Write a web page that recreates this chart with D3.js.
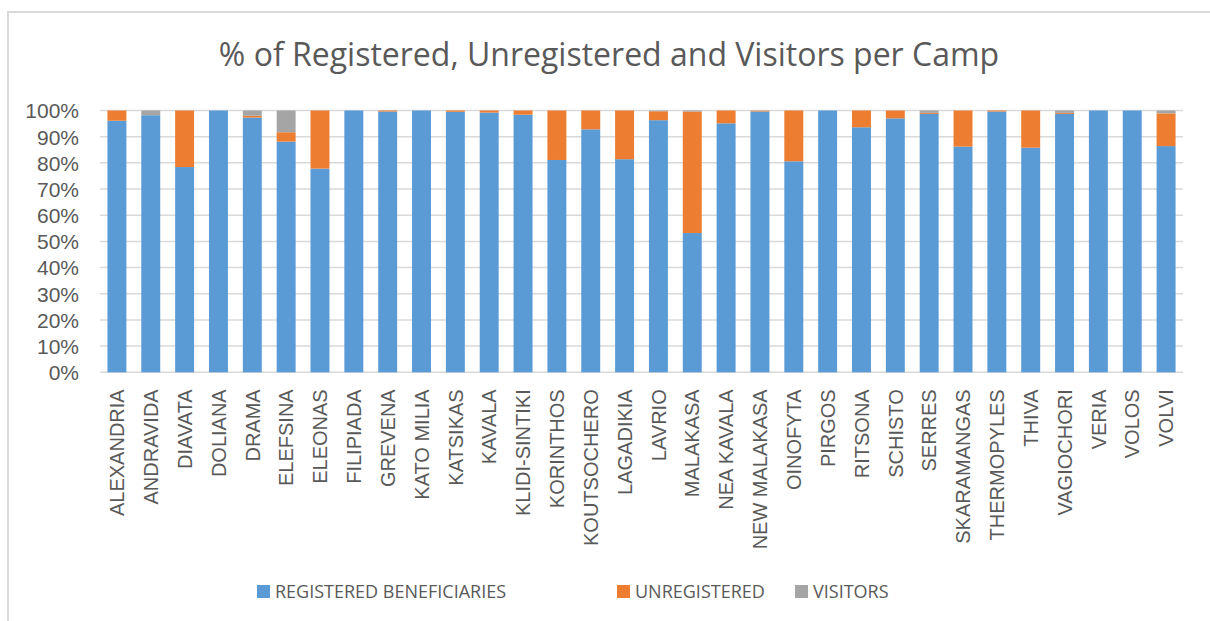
<!DOCTYPE html>
<html>
<head>
<meta charset="utf-8">
<script src="https://cdn.jsdelivr.net/npm/d3@7"></script>
<style>
  html, body { margin: 0; padding: 0; background: #fff; }
  svg { display: block; font-family: "Open Sans", "Noto Sans", sans-serif; }
</style>
</head>
<body>
<svg id="chart" width="1210" height="621"></svg>
<script>
const categories = ["ALEXANDRIA","ANDRAVIDA","DIAVATA","DOLIANA","DRAMA","ELEFSINA","ELEONAS","FILIPIADA","GREVENA","KATO MILIA","KATSIKAS","KAVALA","KLIDI-SINTIKI","KORINTHOS","KOUTSOCHERO","LAGADIKIA","LAVRIO","MALAKASA","NEA KAVALA","NEW MALAKASA","OINOFYTA","PIRGOS","RITSONA","SCHISTO","SERRES","SKARAMANGAS","THERMOPYLES","THIVA","VAGIOCHORI","VERIA","VOLOS","VOLVI"];
const registered = [96.1,98.2,78.4,100,97.3,88.1,77.8,100,99.6,100,99.5,99.2,98.4,81.1,92.8,81.4,96.3,53.2,95.1,99.6,80.6,100,93.6,97.0,98.7,86.2,99.6,85.8,98.7,100,100,86.4];
const unregistered = [3.9,0,21.6,0,0.7,3.6,22.2,0,0.4,0,0.5,0.8,1.6,18.9,7.2,18.6,3.4,46.4,4.9,0.3,19.4,0,6.4,3.0,0.4,13.8,0.4,14.2,0.4,0,0,12.5];
const visitors = [0,1.8,0,0,2.0,8.3,0,0,0,0,0,0,0,0,0,0,0.3,0.4,0,0.1,0,0,0,0,0.9,0,0,0,0.9,0,0,1.1];
const seriesNames = ["REGISTERED BENEFICIARIES","UNREGISTERED","VISITORS"];
const seriesColors = ["#5B9BD5","#ED7D31","#A5A5A5"];
const yTicks = [0,10,20,30,40,50,60,70,80,90,100];
const title = "% of Registered, Unregistered and Visitors per Camp";

const svg = d3.select("#chart");
const textColor = "#595959";
const gridColor = "#d9d9d9";

// outer chart border
svg.append("path")
  .attr("d", "M8,621 L8,12 L1212,12")
  .attr("fill", "none").attr("stroke", gridColor).attr("stroke-width", 2);

const margin = {left: 100, right: 1183, top: 110.5, bottom: 372.3};

const x = d3.scaleBand().domain(categories).range([margin.left, margin.right]).paddingInner(0.44).paddingOuter(0.22);
const y = d3.scaleLinear().domain([0, 100]).range([margin.bottom, margin.top]);

// gridlines
svg.append("g").selectAll("line").data(yTicks).join("line")
  .attr("x1", margin.left).attr("x2", margin.right)
  .attr("y1", d => y(d)).attr("y2", d => y(d))
  .attr("stroke", gridColor).attr("stroke-width", 1.5);

// stacked data
const rows = categories.map((c, i) => ({cat: c, s0: registered[i], s1: unregistered[i], s2: visitors[i]}));
const stack = d3.stack().keys(["s0","s1","s2"]);
const stacked = stack(rows);

svg.append("g").selectAll("g").data(stacked).join("g")
  .attr("fill", (d, i) => seriesColors[i])
  .selectAll("rect").data(d => d).join("rect")
  .attr("x", d => x(d.data.cat))
  .attr("width", x.bandwidth())
  .attr("y", d => y(d[1]))
  .attr("height", d => Math.max(0, y(d[0]) - y(d[1])));

// y axis labels
const yAxis = d3.axisLeft(y).tickValues(yTicks).tickFormat(d => d + "%").tickSize(0).tickPadding(0);
const yg = svg.append("g").attr("transform", "translate(79,0)").call(yAxis);
yg.select(".domain").remove();
yg.selectAll("text").attr("fill", textColor).style("font-size", "21px").attr("dy", "0.35em");

// x axis labels
const xAxis = d3.axisBottom(x).tickSize(0).tickPadding(0);
const xg = svg.append("g").attr("transform", `translate(0,${margin.bottom})`).call(xAxis);
xg.select(".domain").remove();
xg.selectAll("text")
  .attr("fill", textColor)
  .style("font-size", "20px")
  .attr("text-anchor", "end")
  .attr("transform", "rotate(-90)")
  .attr("x", -17)
  .attr("y", 0)
  .attr("dy", "0.36em");

// title
svg.append("text")
  .attr("x", 609).attr("y", 66)
  .attr("text-anchor", "middle")
  .attr("fill", textColor)
  .style("font-size", "32px")
  .text(title);

// legend
const legendX = [257, 617, 795];
const lg = svg.append("g").selectAll("g").data(seriesNames).join("g")
  .attr("transform", (d, i) => `translate(${legendX[i]},585)`);
lg.append("rect").attr("width", 13).attr("height", 13).attr("fill", (d, i) => seriesColors[i]);
lg.append("text").attr("x", 18).attr("y", 6.5).attr("dy", "0.36em")
  .attr("fill", textColor).style("font-size", "18px").text(d => d);
</script>
</body>
</html>
